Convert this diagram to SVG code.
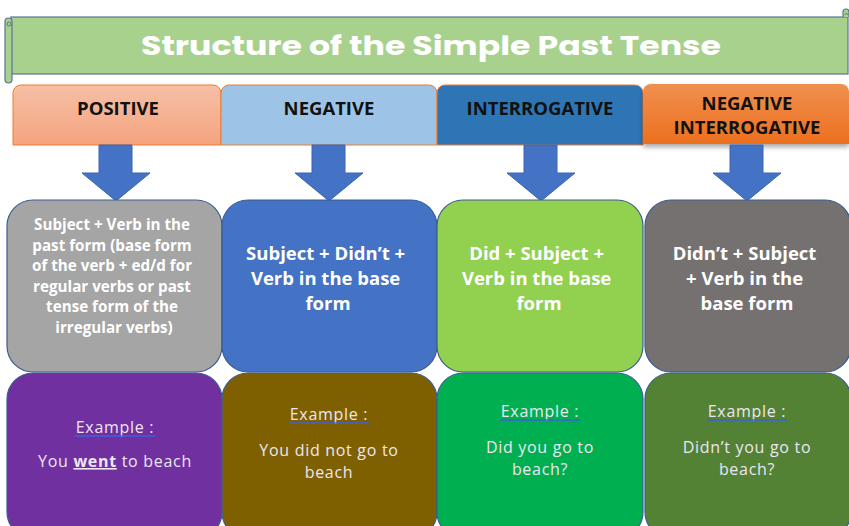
<svg xmlns="http://www.w3.org/2000/svg" width="849" height="526" viewBox="0 0 849 526">
  <defs>
    <linearGradient id="gPos" x1="0" y1="0" x2="0" y2="1">
      <stop offset="0" stop-color="#F7BFA6"/>
      <stop offset="1" stop-color="#F4A47E"/>
    </linearGradient>
    <linearGradient id="gNegInt" x1="0" y1="0" x2="0" y2="1">
      <stop offset="0" stop-color="#F09050"/>
      <stop offset="1" stop-color="#EC6F1E"/>
    </linearGradient>
    <filter id="shadow" x="-10%" y="-20%" width="120%" height="150%">
      <feDropShadow dx="0" dy="3" stdDeviation="2.5" flood-color="#000" flood-opacity="0.35"/>
    </filter>
    <path id="arrow" d="M-17,0 H16 V28 H34 L0,56 L-34,28 H-17 Z"/>
  </defs>
  <style>
    .hdr { stroke: #ED7D31; stroke-width: 1; }
    .hdrtxt { font-family: "Open Sans", "Liberation Sans", sans-serif; font-weight: 700; font-size: 18.5px; fill: #111; text-anchor: middle; }
    .box { stroke: #3B5E91; stroke-width: 1.2; }
    .mid { font-family: "Open Sans", "Liberation Sans", sans-serif; font-weight: 700; fill: #FFFFFF; text-anchor: middle; }
    .ex { font-family: "Open Sans", "Liberation Sans", sans-serif; font-size: 16px; letter-spacing: 0.7px; fill: #EDE6F2; text-anchor: middle; }
    .ul { stroke: #3A62D8; stroke-width: 1.5; }
    .arr { fill: #4472C4; stroke: #3B64B0; stroke-width: 1; }
  </style>

  <!-- title scroll banner -->
  <g id="title">
    <rect x="11" y="17" width="837" height="57" fill="#A9D18E" stroke="#5A7396" stroke-width="1.2"/>
    <path d="M843,17 V12 a3,3 0 0 1 6,0 V17" fill="#A9D18E" stroke="#5A7396" stroke-width="1.2"/>
    <path d="M845,15 a1.5,1.5 0 0 1 3,0" fill="none" stroke="#5A7396" stroke-width="1"/>
    <rect x="5" y="18" width="7" height="65" rx="3.5" fill="#A9D18E" stroke="#5A7396" stroke-width="1.2"/>
    <path d="M7,24 a2,2 0 0 1 4,0 a2,2 0 0 1 -4,0" fill="none" stroke="#5A7396" stroke-width="1"/>
    <text x="431" y="55" font-family="Poppins, 'Noto Sans', 'Liberation Sans', sans-serif" font-weight="700" font-size="26" fill="#FFFFFF" text-anchor="middle" textLength="580" lengthAdjust="spacingAndGlyphs">Structure of the Simple Past Tense</text>
  </g>

  <!-- column headers -->
  <g id="hdr-positive">
    <path class="hdr" d="M13,145 V93 a8,8 0 0 1 8,-8 H213 a8,8 0 0 1 8,8 V145 Z" fill="url(#gPos)"/>
    <text class="hdrtxt" x="118" y="115">POSITIVE</text>
  </g>
  <g id="hdr-negative">
    <path class="hdr" d="M221,145 V93 a8,8 0 0 1 8,-8 H429 a8,8 0 0 1 8,8 V145 Z" fill="#9DC3E6"/>
    <text class="hdrtxt" x="329" y="115">NEGATIVE</text>
  </g>
  <g id="hdr-interrogative">
    <path class="hdr" d="M437,145 V93 a8,8 0 0 1 8,-8 H635 a8,8 0 0 1 8,8 V145 Z" fill="#2E75B6"/>
    <text class="hdrtxt" x="540" y="115">INTERROGATIVE</text>
  </g>
  <g id="hdr-negative-interrogative">
    <path d="M643,144 V92 a8,8 0 0 1 8,-8 H841 a8,8 0 0 1 8,8 V144 Z" fill="url(#gNegInt)" filter="url(#shadow)"/>
    <text class="hdrtxt" x="747" y="110">NEGATIVE</text>
    <text class="hdrtxt" x="747" y="134">INTERROGATIVE</text>
  </g>

  <!-- block arrows from headers to rule boxes -->
  <g id="connectors">
    <use href="#arrow" class="arr" transform="translate(116,145)"/>
    <use href="#arrow" class="arr" transform="translate(329,145)"/>
    <use href="#arrow" class="arr" transform="translate(541,145)"/>
    <use href="#arrow" class="arr" transform="translate(747,145)"/>
  </g>

  <!-- rule boxes -->
  <g id="rule-positive">
    <rect class="box" x="7" y="200" width="215" height="172" rx="26" fill="#A5A5A5"/>
    <text class="mid" font-size="15.2">
      <tspan x="114" y="230">Subject + Verb in the</tspan>
      <tspan x="114" y="251">past form (base form</tspan>
      <tspan x="114" y="271">of the verb + ed/d for</tspan>
      <tspan x="114" y="292">regular verbs or past</tspan>
      <tspan x="114" y="312">tense form of the</tspan>
      <tspan x="114" y="333">irregular verbs)</tspan>
    </text>
  </g>
  <g id="rule-negative">
    <rect class="box" x="222" y="200" width="215" height="172" rx="26" fill="#4472C4"/>
    <text class="mid" font-size="18.5">
      <tspan x="328" y="260">Subject + Didn’t +</tspan>
      <tspan x="328" y="285">Verb in the base</tspan>
      <tspan x="328" y="310">form</tspan>
    </text>
  </g>
  <g id="rule-interrogative">
    <rect class="box" x="437" y="200" width="206" height="172" rx="26" fill="#92D050"/>
    <text class="mid" font-size="18.5">
      <tspan x="539" y="260">Did + Subject +</tspan>
      <tspan x="539" y="285">Verb in the base</tspan>
      <tspan x="539" y="310">form</tspan>
    </text>
  </g>
  <g id="rule-negative-interrogative">
    <rect class="box" x="645" y="200" width="206" height="172" rx="26" fill="#767171"/>
    <text class="mid" font-size="18.5">
      <tspan x="747" y="260">Didn’t + Subject</tspan>
      <tspan x="747" y="285">+ Verb in the</tspan>
      <tspan x="747" y="310">base form</tspan>
    </text>
  </g>

  <!-- example boxes -->
  <g id="example-positive">
    <rect class="box" x="7" y="373" width="215" height="165" rx="26" fill="#7030A0"/>
    <text class="ex" x="115" y="433">Example :</text>
    <line class="ul" x1="75" y1="436" x2="155" y2="436"/>
    <text class="ex" x="115" y="467">You <tspan font-weight="700" text-decoration="underline">went</tspan> to beach</text>
  </g>
  <g id="example-negative">
    <rect class="box" x="222" y="373" width="215" height="165" rx="26" fill="#7F6000"/>
    <text class="ex" x="329" y="420">Example :</text>
    <line class="ul" x1="289" y1="423" x2="369" y2="423"/>
    <text class="ex" x="329" y="456">You did not go to</text>
    <text class="ex" x="329" y="478">beach</text>
  </g>
  <g id="example-interrogative">
    <rect class="box" x="437" y="373" width="206" height="165" rx="26" fill="#00B050"/>
    <text class="ex" x="540" y="417">Example :</text>
    <line class="ul" x1="500" y1="420" x2="580" y2="420"/>
    <text class="ex" x="540" y="453">Did you go to</text>
    <text class="ex" x="540" y="475">beach?</text>
  </g>
  <g id="example-negative-interrogative">
    <rect class="box" x="645" y="373" width="206" height="165" rx="26" fill="#548235"/>
    <text class="ex" x="747" y="417">Example :</text>
    <line class="ul" x1="707" y1="420" x2="787" y2="420"/>
    <text class="ex" x="747" y="453">Didn’t you go to</text>
    <text class="ex" x="747" y="475">beach?</text>
  </g>
</svg>
